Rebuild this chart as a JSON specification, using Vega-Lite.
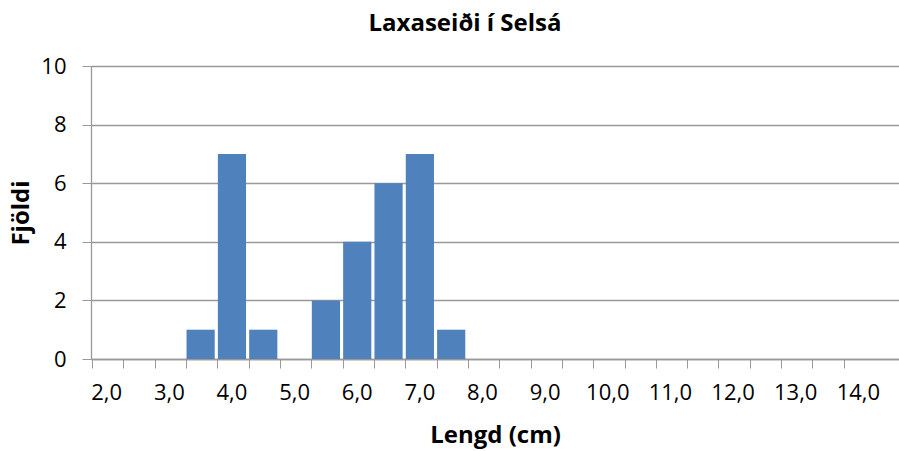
{
  "$schema": "https://vega.github.io/schema/vega-lite/v6.json",
  "autosize": {"type": "none"},
  "padding": {"left": 91, "top": 66, "right": 0, "bottom": 92},
  "width": 808,
  "height": 293,
  "background": "white",
  "config": {
    "view": {"stroke": null},
    "font": "Open Sans"
  },
  "title": {
    "text": "Laxaseiði í Selsá",
    "font": "Open Sans",
    "fontSize": 24,
    "fontWeight": "bold",
    "color": "black",
    "anchor": "middle",
    "frame": "group",
    "dx": -30,
    "offset": 19
  },
  "data": {
    "values": [
      {"lengd": "2,0", "fjoldi": 0},
      {"lengd": "2,5", "fjoldi": 0},
      {"lengd": "3,0", "fjoldi": 0},
      {"lengd": "3,5", "fjoldi": 1},
      {"lengd": "4,0", "fjoldi": 7},
      {"lengd": "4,5", "fjoldi": 1},
      {"lengd": "5,0", "fjoldi": 0},
      {"lengd": "5,5", "fjoldi": 2},
      {"lengd": "6,0", "fjoldi": 4},
      {"lengd": "6,5", "fjoldi": 6},
      {"lengd": "7,0", "fjoldi": 7},
      {"lengd": "7,5", "fjoldi": 1},
      {"lengd": "8,0", "fjoldi": 0},
      {"lengd": "8,5", "fjoldi": 0},
      {"lengd": "9,0", "fjoldi": 0},
      {"lengd": "9,5", "fjoldi": 0},
      {"lengd": "10,0", "fjoldi": 0},
      {"lengd": "10,5", "fjoldi": 0},
      {"lengd": "11,0", "fjoldi": 0},
      {"lengd": "11,5", "fjoldi": 0},
      {"lengd": "12,0", "fjoldi": 0},
      {"lengd": "12,5", "fjoldi": 0},
      {"lengd": "13,0", "fjoldi": 0},
      {"lengd": "13,5", "fjoldi": 0},
      {"lengd": "14,0", "fjoldi": 0}
    ]
  },
  "mark": {"type": "bar", "color": "#4F81BD"},
  "encoding": {
    "x": {
      "field": "lengd",
      "type": "nominal",
      "sort": null,
      "scale": {"paddingInner": 0.1, "paddingOuter": 0.449, "align": 0.056},
      "axis": {
        "title": "Lengd (cm)",
        "titleFont": "Open Sans",
        "titleFontSize": 24,
        "titleFontWeight": "bold",
        "titleColor": "black",
        "titlePadding": 20,
        "bandPosition": 0,
        "labelAngle": 0,
        "labelFont": "Open Sans",
        "labelFontSize": 22,
        "labelColor": "black",
        "labelPadding": 14,
        "labelOverlap": false,
        "labelExpr": "slice(datum.value, -1) == '5' ? '' : datum.value",
        "tickSize": 9,
        "tickColor": "#999999",
        "domainColor": "#999999",
        "domainWidth": 1.3,
        "grid": false
      }
    },
    "y": {
      "field": "fjoldi",
      "type": "quantitative",
      "scale": {"domain": [0, 10], "nice": false},
      "axis": {
        "title": "Fjöldi",
        "titleFont": "Open Sans",
        "titleFontSize": 24,
        "titleFontWeight": "bold",
        "titleColor": "black",
        "titlePadding": 7,
        "values": [0, 2, 4, 6, 8, 10],
        "labelFont": "Open Sans",
        "labelFontSize": 22,
        "labelColor": "black",
        "labelPadding": 16,
        "tickSize": 9,
        "tickColor": "#999999",
        "domainColor": "#999999",
        "domainWidth": 1.3,
        "grid": true,
        "gridColor": "#999999",
        "gridWidth": 1.3
      }
    }
  }
}
